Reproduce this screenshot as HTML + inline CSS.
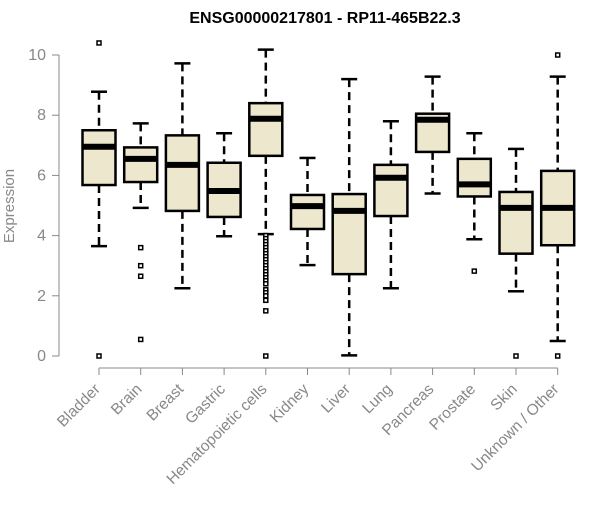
<!DOCTYPE html>
<html><head><meta charset="utf-8"><style>body{margin:0;background:#fff}svg{font-family:"Liberation Sans",Arial,sans-serif}</style></head>
<body>
<svg id="c" width="600" height="500">
<text x="325" y="23" text-anchor="middle" font-weight="bold" font-size="16">ENSG00000217801 - RP11-465B22.3</text>
<text transform="translate(14,206) rotate(-90)" text-anchor="middle" font-size="15" fill="#888">Expression</text>
<g id="g"></g>
</svg>
<script>
const categories=["Bladder","Brain","Breast","Gastric","Hematopoietic cells","Kidney","Liver","Lung","Pancreas","Prostate","Skin","Unknown / Other"];
const lows=[3.65,4.92,2.25,3.98,4.05,3.02,0.02,2.25,5.4,3.88,2.15,0.5];
const q1s=[5.68,5.78,4.82,4.62,6.65,4.22,2.72,4.65,6.78,5.3,3.4,3.68];
const medians=[6.95,6.55,6.35,5.48,7.88,4.98,4.82,5.92,7.85,5.7,4.92,4.92];
const q3s=[7.5,6.93,7.33,6.42,8.4,5.35,5.38,6.35,8.05,6.55,5.45,6.15];
const highs=[8.78,7.73,9.72,7.4,10.18,6.58,9.2,7.8,9.28,7.4,6.88,9.28];
const outliers=[[10.4,0],[3.6,3.0,2.65,0.55],[],[],[4.0,3.9,3.8,3.7,3.6,3.5,3.4,3.3,3.2,3.1,3.0,2.9,2.8,2.7,2.6,2.5,2.4,2.2,2.1,2.0,1.85,1.5,0],[],[],[],[],[2.82],[0],[10.0,0]];
const yTicks=[0,2,4,6,8,10];
const NS="http://www.w3.org/2000/svg",g=document.getElementById('g');
const y=v=>356-v*30.1, x=i=>99+i*41.7;
function mk(t,a,p){const e=document.createElementNS(NS,t);for(const k in a)e.setAttribute(k,a[k]);(p||g).appendChild(e);return e;}
let e=mk('line',{x1:59,x2:59,y1:y(0),y2:y(10),stroke:'#888'});

yTicks.forEach(t=>{mk('line',{x1:52,x2:59,y1:y(t),y2:y(t),stroke:'#888'});
 const tx=mk('text',{x:46,y:y(t)+5,'text-anchor':'end','font-size':16,fill:'#888'});tx.textContent=t;
 });
e=mk('line',{x1:x(0),x2:x(11),y1:368,y2:368,stroke:'#888'});

categories.forEach((c,i)=>{const cx=x(i),w=16.5;
 const b=mk('g',{});
 mk('line',{x1:cx,x2:cx,y1:y(highs[i]),y2:y(q3s[i]),stroke:'#000','stroke-width':2.5,'stroke-dasharray':'8,5'},b);
 mk('line',{x1:cx,x2:cx,y1:y(q1s[i]),y2:y(lows[i]),stroke:'#000','stroke-width':2.5,'stroke-dasharray':'8,5'},b);
 mk('line',{x1:cx-8,x2:cx+8,y1:y(highs[i]),y2:y(highs[i]),stroke:'#000','stroke-width':2.5},b);
 mk('line',{x1:cx-8,x2:cx+8,y1:y(lows[i]),y2:y(lows[i]),stroke:'#000','stroke-width':2.5},b);
 mk('rect',{x:cx-w,y:y(q3s[i]),width:2*w,height:y(q1s[i])-y(q3s[i]),fill:'#ede7cd',stroke:'#000','stroke-width':2.5},b);
 mk('line',{x1:cx-w,x2:cx+w,y1:y(medians[i]),y2:y(medians[i]),stroke:'#000','stroke-width':6},b);
 outliers[i].forEach(o=>mk('rect',{x:cx-2,y:y(o)-2,width:4,height:4,fill:'#fff',stroke:'#000','stroke-width':1.5},b));
 mk('line',{x1:cx,x2:cx,y1:368,y2:375,stroke:'#888'});
 const t=mk('text',{transform:`translate(${cx+2},${390}) rotate(-45)`,'text-anchor':'end','font-size':15.5,fill:'#888'});t.textContent=c;
 
});
</script>
</body></html>
